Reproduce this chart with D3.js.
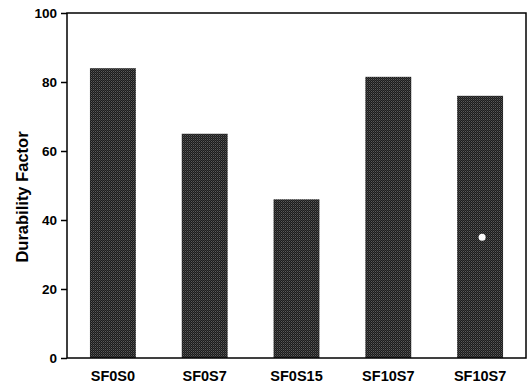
<!DOCTYPE html>
<html>
<head>
<meta charset="utf-8">
<script src="https://cdn.jsdelivr.net/npm/d3@7"></script>
<style>
  html, body { margin: 0; padding: 0; background: #fff; }
  svg { display: block; }
  .tick text { font-family: Arial, "Liberation Sans", sans-serif; font-weight: bold; fill: #000; }
</style>
</head>
<body>
<svg id="chart" width="529" height="388"></svg>
<script>
// Data
const categories = ['SF0S0', 'SF0S7', 'SF0S15', 'SF10S7', 'SF10S7 '];
const durability = [84, 65, 46, 81.5, 76];
const yTicks = [0, 20, 40, 60, 80, 100];
// small white speck on the last bar (scan artefact)
const specks = [{cat: 'SF10S7 ', value: 35}];

const svg = d3.select('#chart');
const margin = {top: 13, right: 3, bottom: 30, left: 67};
const W = +svg.attr('width'), H = +svg.attr('height');
const innerW = W - margin.left - margin.right, innerH = H - margin.top - margin.bottom;
const g = svg.append('g').attr('transform', `translate(${margin.left},${margin.top})`);

const x = d3.scaleBand().domain(categories).range([0, innerW]).paddingInner(0.5).paddingOuter(0.25);
const y = d3.scaleLinear().domain([0, 100]).range([innerH, 0]);

// dithered dark fill
const defs = svg.append('defs');
const pat = defs.append('pattern').attr('id', 'dither')
  .attr('width', 2).attr('height', 2).attr('patternUnits', 'userSpaceOnUse');
pat.append('rect').attr('width', 2).attr('height', 2).attr('fill', '#1c1c1c');
pat.append('rect').attr('width', 1).attr('height', 1).attr('fill', '#5a5a5a');
pat.append('rect').attr('x', 1).attr('y', 1).attr('width', 1).attr('height', 1).attr('fill', '#3a3a3a');

g.selectAll('rect.bar').data(categories).join('rect')
  .attr('class', 'bar')
  .attr('x', d => x(d)).attr('y', (d, i) => y(durability[i]))
  .attr('width', x.bandwidth()).attr('height', (d, i) => innerH - y(durability[i]))
  .attr('fill', 'url(#dither)');

g.selectAll('circle.speck').data(specks).join('circle')
  .attr('class', 'speck')
  .attr('cx', d => x(d.cat) + x.bandwidth() / 2 + 2)
  .attr('cy', d => y(d.value))
  .attr('r', 3.5).attr('fill', '#fff');

// frame
g.append('rect').attr('width', innerW).attr('height', innerH)
  .attr('fill', 'none').attr('stroke', '#000').attr('stroke-width', 1.5);

// y axis
const yAxis = g.append('g')
  .call(d3.axisLeft(y).tickValues(yTicks).tickSize(6).tickPadding(4));
yAxis.select('.domain').remove();
yAxis.selectAll('.tick line').attr('stroke', '#000').attr('stroke-width', 1.5);
yAxis.selectAll('.tick text').style('font-size', '13.5px');

// x axis
const xAxis = g.append('g').attr('transform', `translate(0,${innerH})`)
  .call(d3.axisBottom(x).tickSize(0).tickPadding(13));
xAxis.select('.domain').remove();
xAxis.selectAll('.tick text').style('font-size', '14.5px');

// y label
svg.append('text')
  .attr('transform', 'translate(28,197) rotate(-90)')
  .attr('text-anchor', 'middle')
  .style('font-family', 'Arial, "Liberation Sans", sans-serif')
  .style('font-weight', 'bold').style('font-size', '16.5px')
  .text('Durability Factor');
</script>
</body>
</html>
